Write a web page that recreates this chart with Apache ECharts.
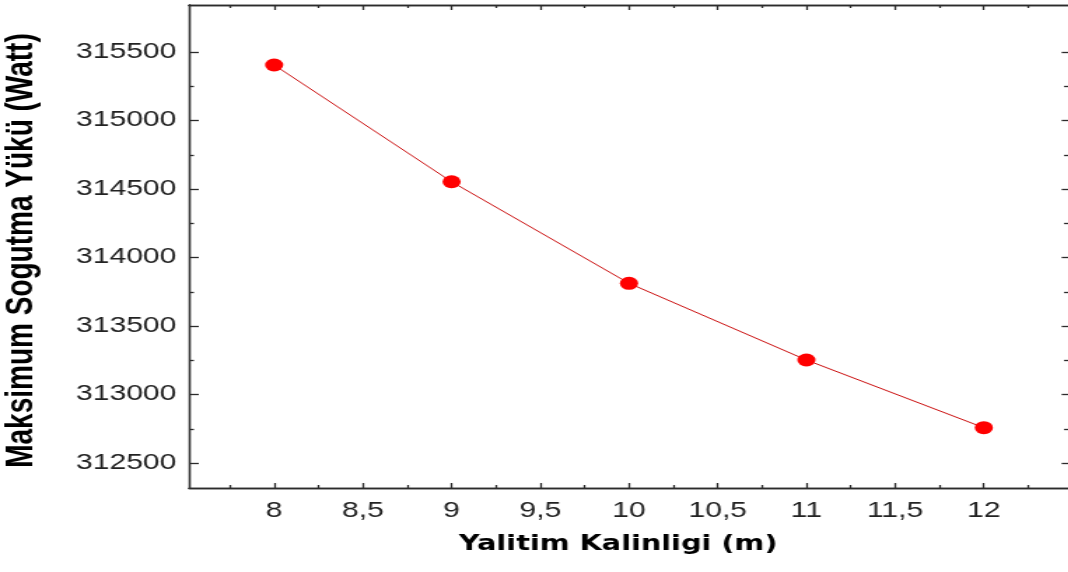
<!DOCTYPE html>
<html><head><meta charset="utf-8">
<script src="https://cdn.jsdelivr.net/npm/echarts@6/dist/echarts.min.js"></script>
<style>
html,body{margin:0;padding:0;background:#fff;overflow:hidden}
#wrap{width:1068px;height:572px;overflow:hidden;position:relative}
#chart{width:790px;height:572px;transform:scaleX(1.4);transform-origin:0 0}
</style></head><body><div id="wrap"><div id="chart"></div></div>
<script>
// data
const thickness = [8, 9, 10, 11, 12];
const coolingLoad = [315405, 314553, 313812, 313252, 312758];
// tick labels / tick positions
const xTickValues = [8, 8.5, 9, 9.5, 10, 10.5, 11, 11.5, 12];
const xMinorTickValues = [7.75, 8.25, 8.75, 9.25, 9.75, 10.25, 10.75, 11.25, 11.75, 12.25];
const yTickValues = [312500, 313000, 313500, 314000, 314500, 315000, 315500];
const yMinorTickValues = [312750, 313250, 313750, 314250, 314750, 315250];
const xTitle = 'Yalitim Kalinligi (m)';
const yTitle = 'Maksimum Sogutma Yükü (Watt)';

const X_MIN = 7.52, X_MAX = 12.5, Y_MIN = 312318, Y_MAX = 315843;
const AX = '#2b2b2b';
const font = '"Liberation Sans", Arial, sans-serif';

function xAx(pos, ticks, len, labels, extra) {
  return Object.assign({
    type: 'value', position: pos, min: X_MIN, max: X_MAX,
    axisLine: { show: true, onZero: false, lineStyle: { color: AX, width: 1.3 } },
    axisTick: { show: true, inside: true, length: len, customValues: ticks, lineStyle: { color: AX, width: 1.3 } },
    axisLabel: labels ? {
      show: true, customValues: ticks, margin: 12, color: '#222', fontSize: 21.5, fontFamily: font,
      formatter: v => String(v).replace('.', ',')
    } : { show: false },
    splitLine: { show: false }
  }, extra || {});
}
function yAx(pos, ticks, len, labels, extra) {
  return Object.assign({
    type: 'value', position: pos, min: Y_MIN, max: Y_MAX,
    axisLine: { show: true, onZero: false, lineStyle: { color: AX, width: 1.3 } },
    axisTick: { show: true, inside: true, length: len, customValues: ticks, lineStyle: { color: AX, width: 1.3 } },
    axisLabel: labels ? {
      show: true, customValues: ticks, margin: 9, color: '#222', fontSize: 21.5, fontFamily: font,
      formatter: v => String(v)
    } : { show: false },
    splitLine: { show: false }
  }, extra || {});
}

const chart = echarts.init(document.getElementById('chart'), null, { renderer: 'canvas' });
chart.setOption({
  backgroundColor: '#fff',
  animation: false,
  grid: { left: 135, top: 5, width: 631.1, height: 483, containLabel: false, outerBoundsMode: 'none' },
  xAxis: [
    xAx('bottom', xTickValues, 5, true, {
      name: xTitle, nameLocation: 'middle', nameGap: 46,
      nameTextStyle: { fontSize: 20.5, fontWeight: 'bold', color: '#000', fontFamily: '"DejaVu Sans", sans-serif', padding: [0, 18, 0, 0] }
    }),
    xAx('bottom', xMinorTickValues, 3, false),
    xAx('top', xTickValues, 5, false),
    xAx('top', xMinorTickValues, 3, false)
  ],
  yAxis: [
    yAx('left', yTickValues, 7, true, {
      name: yTitle, nameLocation: 'middle', nameGap: 106,
      nameTextStyle: { fontSize: 28, fontWeight: 700, color: '#000', fontFamily: font, padding: [0, 8, 0, 0] }
    }),
    yAx('left', yMinorTickValues, 3.5, false),
    yAx('right', yTickValues, 7.8, false),
    yAx('right', yMinorTickValues, 6.1, false)
  ],
  series: [{
    type: 'line',
    xAxisIndex: 0, yAxisIndex: 0,
    data: thickness.map((x, i) => [x, coolingLoad[i]]),
    symbol: 'circle', symbolSize: 13,
    itemStyle: { color: '#ff0000' },
    lineStyle: { color: '#cc1111', width: 1 },
    z: 5
  }]
});
</script></body></html>
